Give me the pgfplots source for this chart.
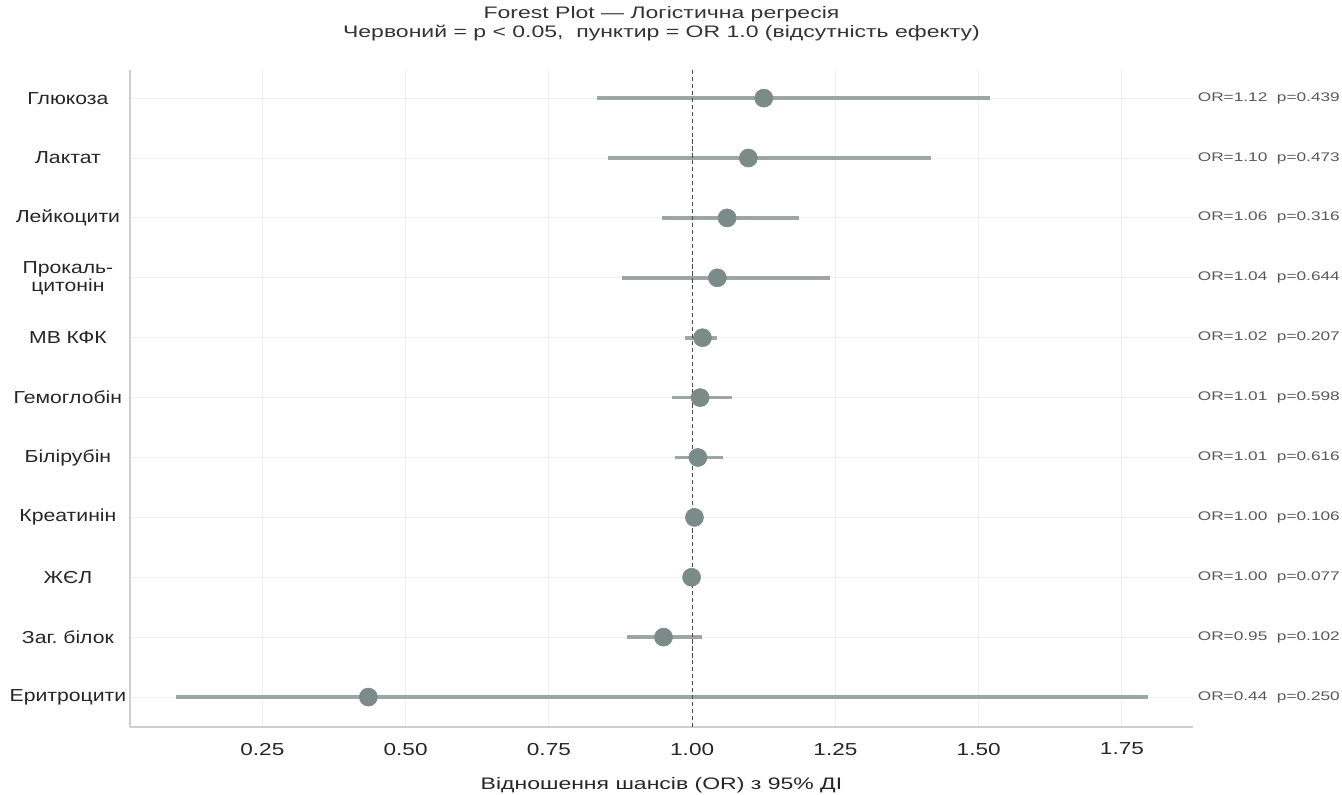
\documentclass[border=0pt]{standalone}
\usepackage{fontspec}
\setmainfont{Liberation Sans}
\newfontfamily\wideA[FakeStretch=1.38]{Liberation Sans}
\newfontfamily\wideB[FakeStretch=1.22]{Liberation Sans}
\newfontfamily\wideC[FakeStretch=1.3]{Liberation Sans}
\usepackage{pgfplots}
\usepackage{pgfplotstable}
\pgfplotsset{compat=1.18}
\definecolor{pt}{HTML}{7B8B87}
\definecolor{ci}{HTML}{8E9896}
\definecolor{spine}{HTML}{CFCFCF}
\definecolor{gridc}{HTML}{EFEFEF}

\pgfplotstableread{
y or lo hi
10 1.125 0.834 1.520
9 1.098 0.853 1.417
8 1.061 0.948 1.187
7 1.044 0.878 1.241
6 1.018 0.988 1.043
5 1.014 0.965 1.070
4 1.010 0.970 1.054
3 1.004 0.996 1.012
2 0.999 0.997 1.001
1 0.950 0.887 1.017
0 0.435 0.100 1.795
}\forest

\begin{document}
\begin{tikzpicture}
\begin{axis}[
  at={(0,0)}, anchor=south west,
  scale only axis,
  width=765.36pt, height=473.04pt,
  xmin=0.019, xmax=1.874,
  ymin=-0.5, ymax=10.47,
  axis lines*=left,
  axis line style={spine, line width=0.9pt},
  xtick={0.25,0.5,0.75,1,1.25,1.5,1.75},
  xticklabels={0.25,0.50,0.75,1.00,1.25,1.50,1.75},
  ytick={0,...,10},
  yticklabels={Еритроцити,Заг.\ білок,ЖЄЛ,Креатинін,Білірубін,Гемоглобін,МВ КФК,{Прокаль-\\цитонін},Лейкоцити,Лактат,Глюкоза},
  major tick length=0pt,
  tick style={draw=none},
  grid=major,
  major grid style={gridc, line width=0.7pt},
  xticklabel style={font=\wideC\fontsize{12.5}{14}\selectfont, yshift=-8pt, text=black!85},
  yticklabel style={font=\wideB\fontsize{12.5}{13}\selectfont, align=center, text width=86pt, inner sep=0pt, xshift=-1.5pt, text=black!85},
  xlabel={Відношення шансів (OR) з 95\% ДІ},
  xlabel style={font=\wideA\fontsize{12}{14}\selectfont, yshift=-9pt, text=black!85},
  clip=false,
]
\addplot[draw=none, mark=none,
  error bars/.cd, x dir=both, x explicit, error mark=none,
  error bar style={ci, line width=2.6pt, opacity=0.85}]
  table[x=or, y=y, x error plus expr=\thisrow{hi}-\thisrow{or}, x error minus expr=\thisrow{or}-\thisrow{lo}] {\forest};
\addplot[only marks, mark=*, mark size=6.5pt, mark options={fill=pt, draw=pt}] table[x=or, y=y] {\forest};
\draw[dash pattern=on 3pt off 2pt, color=black!70, line width=0.8pt] (axis cs:1,-0.5) -- (axis cs:1,10.47);
\begin{scope}[every node/.style={anchor=west, font=\wideA\fontsize{9}{10}\selectfont, text=black!65, inner sep=0pt}]
\node at (axis cs:1.882,10) {OR=1.12\ \ p=0.439};
\node at (axis cs:1.882,9) {OR=1.10\ \ p=0.473};
\node at (axis cs:1.882,8) {OR=1.06\ \ p=0.316};
\node at (axis cs:1.882,7) {OR=1.04\ \ p=0.644};
\node at (axis cs:1.882,6) {OR=1.02\ \ p=0.207};
\node at (axis cs:1.882,5) {OR=1.01\ \ p=0.598};
\node at (axis cs:1.882,4) {OR=1.01\ \ p=0.616};
\node at (axis cs:1.882,3) {OR=1.00\ \ p=0.106};
\node at (axis cs:1.882,2) {OR=1.00\ \ p=0.077};
\node at (axis cs:1.882,1) {OR=0.95\ \ p=0.102};
\node at (axis cs:1.882,0) {OR=0.44\ \ p=0.250};
\end{scope}
\node[align=center, font=\wideA\fontsize{12}{14}\selectfont, text=black!80] at ([yshift=33.5pt]rel axis cs:0.5,1) {Forest Plot — Логістична регресія\\Червоний = p < 0.05,\ \ пунктир = OR 1.0 (відсутність ефекту)};
\end{axis}
\pgfresetboundingbox
\path (-93.6pt,-48.96pt) rectangle (872.64pt,523.44pt);
\end{tikzpicture}
\end{document}
